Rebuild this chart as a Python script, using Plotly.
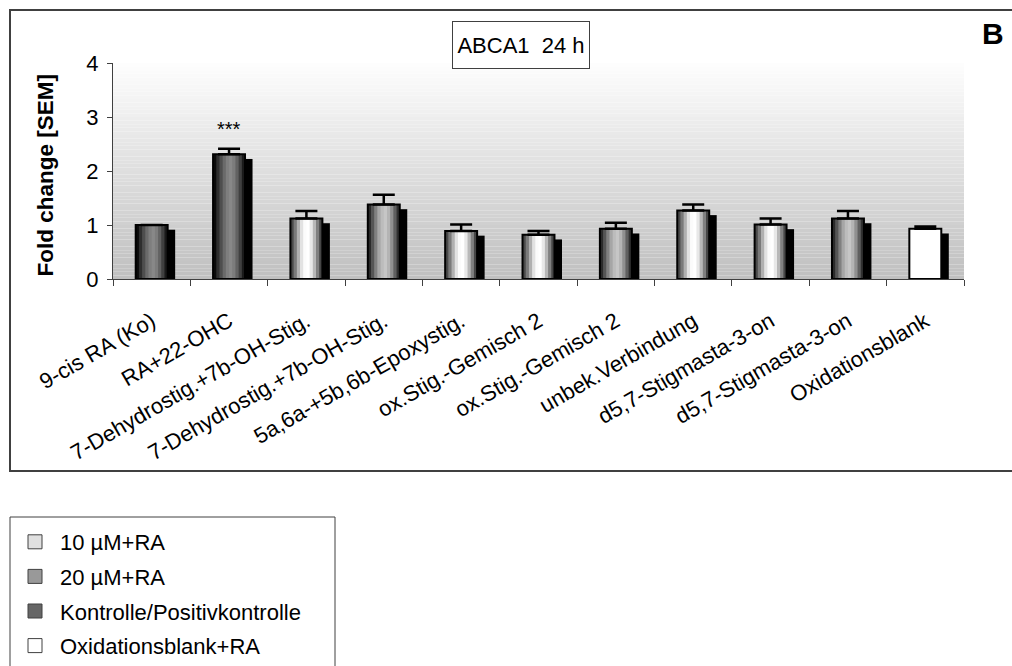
import plotly.graph_objects as go

# ---------------- data ----------------
categories = [
    "9-cis RA (Ko)",
    "RA+22-OHC",
    "7-Dehydrostig.+7b-OH-Stig.",
    "7-Dehydrostig.+7b-OH-Stig.",
    "5a,6a-+5b,6b-Epoxystig.",
    "ox.Stig.-Gemisch 2",
    "ox.Stig.-Gemisch 2",
    "unbek.Verbindung",
    "d5,7-Stigmasta-3-on",
    "d5,7-Stigmasta-3-on",
    "Oxidationsblank",
]
fold_change = [1.00, 2.31, 1.12, 1.38, 0.89, 0.82, 0.93, 1.27, 1.01, 1.12, 0.93]
sem = [0.00, 0.10, 0.14, 0.18, 0.12, 0.07, 0.11, 0.11, 0.11, 0.14, 0.04]
group = ["ctrl", "ctrl", "10", "20", "10", "10", "20", "10", "10", "20", "blank"]
significance = ["", "***", "", "", "", "", "", "", "", "", ""]

legend_names = ["10 µM+RA", "20 µM+RA", "Kontrolle/Positivkontrolle", "Oxidationsblank+RA"]
legend_keys = ["10", "20", "ctrl", "blank"]
legend_colors = ["#e0e0e0", "#999999", "#666666", "#ffffff"]

y_ticks = [0, 1, 2, 3, 4]
title_text = "ABCA1\u00a0 24 h"
y_title = "Fold change [SEM]"
panel_label = "B"

# ---------------- styles ----------------
FONT = "Liberation Sans, Arial, sans-serif"
FS = 22
shading = {
    "ctrl": ["#0a0a0a", "#2e2e2e", "#4e4e4e", "#6a6a6a", "#7e7e7e", "#888888",
             "#7c7c7c", "#626262", "#404040", "#1a1a1a"],
    "20": ["#2a2a2a", "#555555", "#808080", "#a6a6a6", "#bcbcbc", "#c6c6c6",
           "#b4b4b4", "#909090", "#606060", "#303030"],
    "10": ["#4a4a4a", "#7a7a7a", "#b0b0b0", "#e2e2e2", "#fbfbfb", "#ffffff",
           "#e8e8e8", "#b8b8b8", "#808080", "#464646"],
    "blank": ["#ffffff"] * 10,
}
n_strips = 10
bar_w = 0.413
shadow_w = 0.097
shadow_drop = 0.087

x = list(range(len(categories)))

fig = go.Figure()

fig.add_trace(go.Bar(
    x=x, y=[v - shadow_drop for v in fold_change],
    width=shadow_w, offset=bar_w / 2,
    marker=dict(color="#000000", line=dict(width=0)),
    showlegend=False, hoverinfo="skip",
))

sw = bar_w / n_strips
for k in range(n_strips):
    wk = sw * (1.35 if k < n_strips - 1 else 1.0)
    fig.add_trace(go.Bar(
        x=x, y=fold_change,
        width=wk, offset=-bar_w / 2 + k * sw,
        marker=dict(color=[shading[g][k] for g in group], line=dict(width=0)),
        showlegend=False, hoverinfo="skip",
    ))

fig.add_trace(go.Bar(
    x=x, y=fold_change,
    width=bar_w, offset=-bar_w / 2,
    marker=dict(color="rgba(0,0,0,0)", line=dict(color="#000000", width=2)),
    error_y=dict(type="data", array=sem, symmetric=False, arrayminus=[0] * len(sem),
                 color="#000000", thickness=2.5, width=11),
    showlegend=False,
))

for name, key, col in zip(legend_names, legend_keys, legend_colors):
    fig.add_trace(go.Scatter(
        x=[None], y=[None], mode="markers", name=name, legendgroup=key,
        marker=dict(symbol="square", size=14, color=col, line=dict(color="#404040", width=1)),
    ))

n_bands = 60
for i in range(n_bands):
    t = i / (n_bands - 1)
    c = int(round(0xC0 + (0xFD - 0xC0) * t))
    fig.add_shape(type="rect", xref="x domain", yref="y",
                  x0=0, x1=1, y0=4 * i / n_bands, y1=4 * (i + 1) / n_bands,
                  fillcolor=f"rgb({c},{c},{c})", line=dict(width=0), layer="below")

for xi, s, v, e in zip(x, significance, fold_change, sem):
    if s:
        fig.add_annotation(x=xi, y=v + e + 0.36, text=s, showarrow=False,
                           font=dict(family=FONT, size=20, color="#000"), yanchor="middle")

L, R, T, B = 113, 48, 63, 387
W, H = 1012, 666
pw, ph = W - L - R, H - T - B


def px(xp):
    return (xp - L) / pw


def py(yp):
    return (H - B - yp) / ph


# outer chart border
fig.add_shape(type="rect", xref="paper", yref="paper",
              x0=px(10), x1=px(1020), y0=py(471), y1=py(10),
              line=dict(color="#404040", width=2), fillcolor="rgba(0,0,0,0)")

# legend frame
fig.add_shape(type="rect", xref="paper", yref="paper",
              x0=px(10), x1=px(335), y0=py(680), y1=py(517),
              line=dict(color="#404040", width=1), fillcolor="rgba(0,0,0,0)")

fig.add_annotation(xref="paper", yref="paper", x=px(521), y=py(44.5), text=title_text,
                   showarrow=False, font=dict(family=FONT, size=FS, color="#000"),
                   width=136, height=46, borderpad=0, bordercolor="#404040", borderwidth=1,
                   bgcolor="#ffffff", xanchor="center", yanchor="middle")

fig.add_annotation(xref="paper", yref="paper", x=px(993), y=py(33), text=f"<b>{panel_label}</b>",
                   showarrow=False, font=dict(family=FONT, size=30, color="#000"),
                   xanchor="center", yanchor="middle")

fig.add_annotation(xref="paper", yref="paper", x=px(45), y=py(175.5), text=f"<b>{y_title}</b>",
                   showarrow=False, textangle=-90, font=dict(family=FONT, size=22.5, color="#000"),
                   xanchor="center", yanchor="middle")

fig.update_layout(
    width=W, height=H,
    margin=dict(l=L, r=R, t=T, b=B, pad=0, autoexpand=False),
    paper_bgcolor="#ffffff", plot_bgcolor="rgba(0,0,0,0)",
    barmode="overlay",
    font=dict(family=FONT, size=FS, color="#000"),
    showlegend=True,
    legend=dict(xref="container", yref="container", x=10 / W, y=1 - 521 / H,
                xanchor="left", yanchor="top", borderwidth=0,
                bgcolor="rgba(0,0,0,0)", font=dict(family=FONT, size=FS, color="#000"),
                itemwidth=40, tracegroupgap=3, traceorder="grouped"),
)
fig.update_xaxes(
    automargin=False,
    range=[-0.5, len(categories) - 0.5], tickmode="array", tickvals=x, ticktext=categories,
    tickangle=-30, ticks="outside", ticklen=20, tickcolor="rgba(0,0,0,0)",
    showline=True, linecolor="#404040", linewidth=1, showgrid=False, zeroline=False,
    tickfont=dict(family=FONT, size=FS, color="#000"),
    minor=dict(tickmode="array", tickvals=[i - 0.5 for i in range(len(categories) + 1)],
               ticks="outside", ticklen=6, tickcolor="#404040", tickwidth=1, showgrid=False),
)
fig.update_yaxes(
    automargin=False,
    range=[0, 4], tickmode="array", tickvals=y_ticks, ticks="outside", ticklen=5,
    ticklabelstandoff=4,
    tickcolor="#404040", showline=True, linecolor="#404040", linewidth=1,
    showgrid=False, zeroline=False, tickfont=dict(family=FONT, size=FS, color="#000"),
)

fig.write_html("out.html", config={"displayModeBar": False},
               post_script="document.body.style.margin='0px';document.body.style.overflow='hidden';")
